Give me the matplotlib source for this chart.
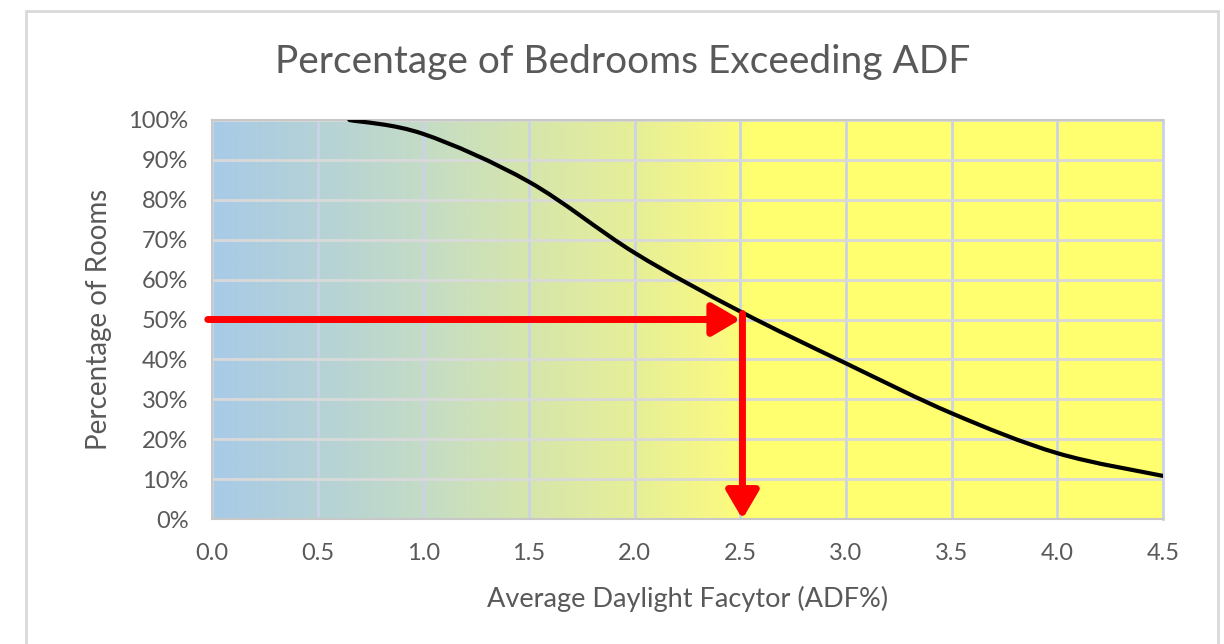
import numpy as np
import matplotlib
matplotlib.use('Agg')
import matplotlib.pyplot as plt
from matplotlib.colors import LinearSegmentedColormap
from matplotlib.path import Path
from matplotlib.patches import PathPatch, Rectangle

plt.rcParams['font.family'] = ['Lato', 'DejaVu Sans']

# data
adf = [0.65, 1.0, 1.5, 2.0, 2.5, 3.0, 3.5, 4.0, 4.5]
pct = [100, 96.5, 84.5, 66.7, 52, 39, 26.5, 16.5, 10.8]
target_pct = 50
target_adf = 2.5
x_ticks = [0.0, 0.5, 1.0, 1.5, 2.0, 2.5, 3.0, 3.5, 4.0, 4.5]
y_ticks = list(range(0, 101, 10))

grey = '#595959'

fig = plt.figure(figsize=(12.24, 6.44), dpi=100)
# chart frame
fig.patches.append(Rectangle((26 / 1224, -0.1), (1218 - 26) / 1224, 1.1 - 11 / 644,
                             transform=fig.transFigure, fill=False,
                             edgecolor='#d9d9d9', lw=2))
ax = fig.add_axes([212 / 1224, 1 - 519 / 644, (1163 - 212) / 1224, (519 - 120) / 644])

# background gradient blue -> yellow
stops = [(0.0, '#a8cbe7'), (0.5 / 4.5, '#b5d2d6'), (1.0 / 4.5, '#c4dcc6'),
         (1.5 / 4.5, '#d6e6ac'), (2.0 / 4.5, '#e6ef98'), (2.4 / 4.5, '#f8f884'),
         (2.55 / 4.5, '#ffff70'), (1.0, '#ffff70')]
cmap = LinearSegmentedColormap.from_list('bg', stops)
ax.imshow(np.linspace(0, 1, 500)[None, :], cmap=cmap, aspect='auto',
          extent=[0, 4.5, 0, 100], zorder=0, interpolation='bilinear')

ax.set_xlim(0, 4.5)
ax.set_ylim(0, 100)
ax.set_axisbelow(True)
ax.set_xticks(x_ticks)
ax.set_yticks(y_ticks)
ax.set_xticklabels([f'{v:.1f}' for v in x_ticks])
ax.set_yticklabels([f'{v}%' for v in y_ticks])
ax.tick_params(length=0, labelsize=17, labelcolor=grey)
ax.tick_params(axis='y', pad=17)
ax.tick_params(axis='x', pad=17)
ax.xaxis.grid(True, color='#cad3e6', lw=2)
ax.yaxis.grid(True, color='#d9d9d9', lw=2)
for s in ['left', 'bottom', 'top']:
    ax.spines[s].set_color('#c8c8c8')
    ax.spines[s].set_linewidth(1.5)
ax.spines['right'].set_color('#cad3e6')
ax.spines['right'].set_linewidth(2)

# smoothed curve (Catmull-Rom style bezier like Excel's smoothed line)
pts = np.column_stack([adf, pct])
ext = np.vstack([pts[0], pts, pts[-1]])
verts = [tuple(pts[0])]
codes = [Path.MOVETO]
for i in range(len(pts) - 1):
    p0, p1, p2, p3 = ext[i], ext[i + 1], ext[i + 2], ext[i + 3]
    c1 = p1 + (p2 - p0) / 6
    c2 = p2 - (p3 - p1) / 6
    verts += [tuple(c1), tuple(c2), tuple(p2)]
    codes += [Path.CURVE4] * 3
ax.add_patch(PathPatch(Path(verts, codes), fill=False, edgecolor='black', lw=3,
                       zorder=3, capstyle='round'))

# red arrows
arrow = dict(arrowstyle='-|>,head_length=0.85,head_width=0.5', color='red', lw=5,
             mutation_scale=20, shrinkA=0, shrinkB=0)
ax.annotate('', xy=(target_adf, target_pct), xytext=(-0.02, target_pct),
            arrowprops=arrow, zorder=4, annotation_clip=False)
ax.annotate('', xy=(target_adf + 0.01, 0), xytext=(target_adf + 0.01, target_pct + 1.5),
            arrowprops=arrow, zorder=4, annotation_clip=False)

fig.text(623 / 1224, 1 - 62 / 644, 'Percentage of Bedrooms Exceeding ADF',
         ha='center', va='center', fontsize=28, color=grey)
ax.set_xlabel('Average Daylight Facytor (ADF%)', fontsize=19.5, color=grey, labelpad=16)
ax.set_ylabel('Percentage of Rooms', fontsize=20, color=grey, labelpad=12)

fig.savefig('out.png', dpi=100)
